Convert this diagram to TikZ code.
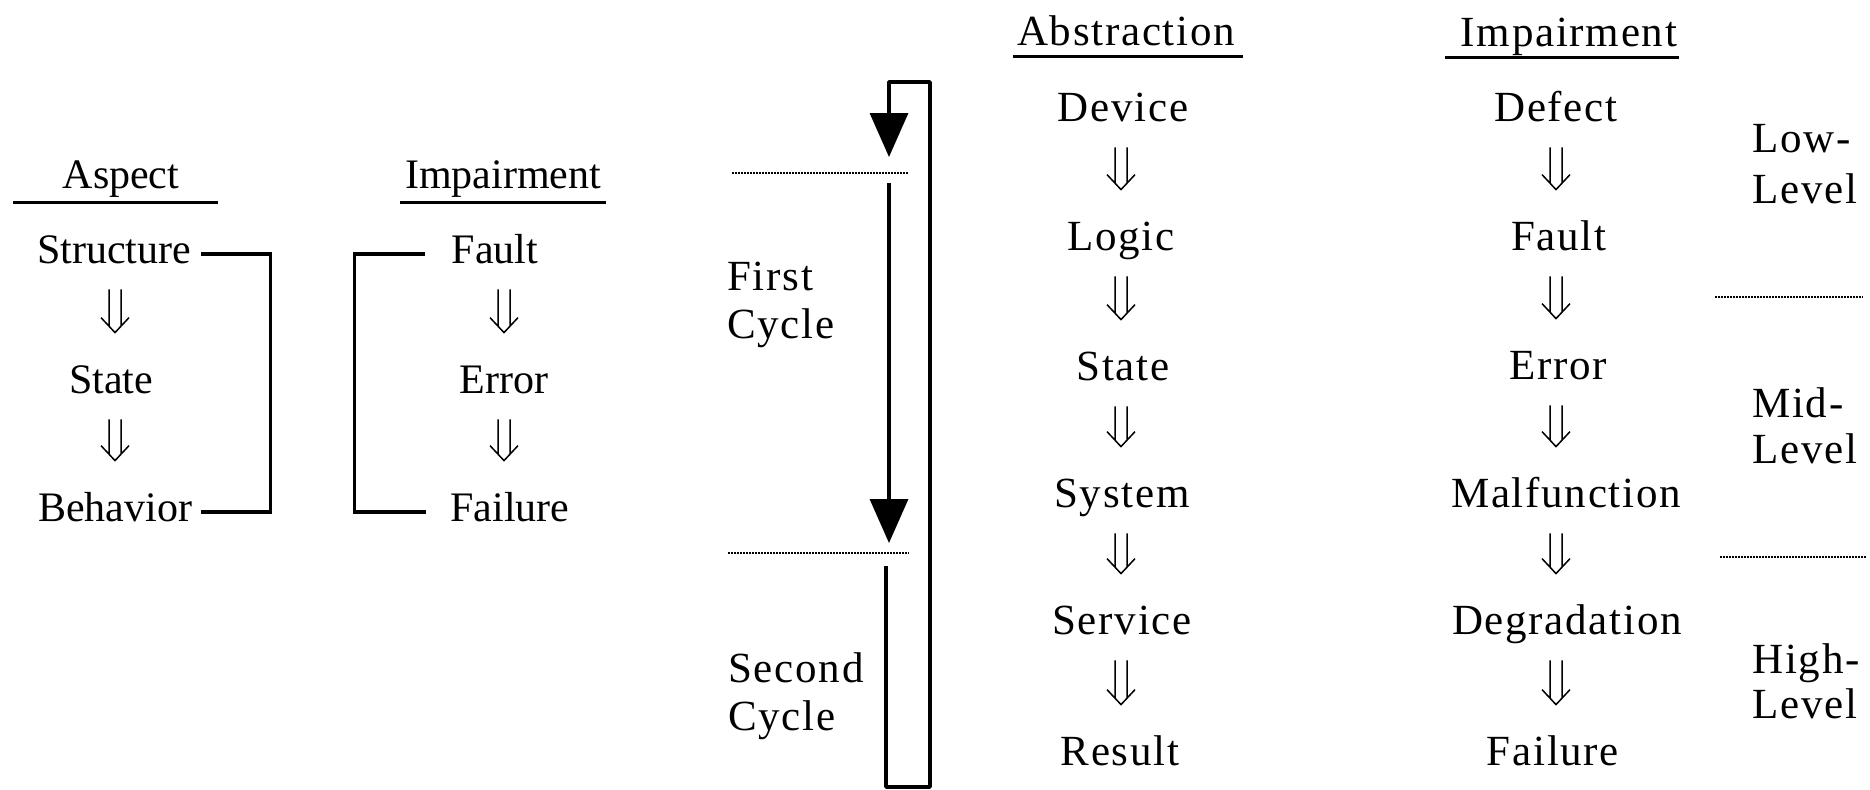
\documentclass[tikz,border=0pt]{standalone}
\usepackage{fontspec}
\setmainfont{Liberation Serif}
\newfontfamily\spacedserif[LetterSpace=4]{Liberation Serif}
\usetikzlibrary{calc,arrows.meta}
\begin{document}
\begin{tikzpicture}[x=0.5pt,y=-0.5pt,
  lt/.style={inner sep=0pt, anchor=base, text height=14pt, text depth=0pt,
    font=\fontsize{21pt}{24pt}\selectfont},
  rt/.style={inner sep=0pt, anchor=base, text height=14pt, text depth=0pt,
    font=\spacedserif\fontsize{21.5pt}{24pt}\selectfont},
  lab/.style={inner sep=0pt, anchor=base west,
    font=\spacedserif\fontsize{21.5pt}{24pt}\selectfont},
  ul/.style={line width=1.5pt},
  brk/.style={line width=1.6pt},
  dots/.style={line width=1pt, dash pattern=on 0.75pt off 0.75pt},
  cyc/.style={line width=1.75pt, line join=round},
  tipT/.style={-{Triangle[length=22pt,width=19pt]}},
  dbl/.style={line width=0.75pt, to path={
    ($(\tikztostart)+(-6,26)$) -- ($(\tikztostart |- \tikztotarget)+(-6,-39)$)
    ($(\tikztostart)+(6,26)$) -- ($(\tikztostart |- \tikztotarget)+(6,-39)$)
    ($(\tikztostart |- \tikztotarget)+(-14,-47)$) -- ($(\tikztostart |- \tikztotarget)+(0,-32)$) -- ($(\tikztostart |- \tikztotarget)+(14,-47)$)
  }}
]
\fill[white] (0,0) rectangle (1870,789);
\useasboundingbox (0,0) rectangle (1870,789);

% ---------- left part ----------
\node[lt] (hAsp) at (121,188) {Aspect};
\node[lt] (hImpL) at (503,188) {Impairment};
\draw[ul] (13,202) -- (218,202);
\draw[ul] (400,202) -- (606,202);

\node[lt] (str) at (114,263) {Structure};
\node[lt] (sta) at (111,393) {State};
\node[lt] (beh) at (115,521) {Behavior};
\node[lt] (flt) at (495,263) {Fault};
\node[lt] (err) at (504,393) {Error};
\node[lt] (fal) at (510,521) {Failure};

\draw[dbl] ([xshift=0.5pt]str.south) to (sta.north);
\draw[dbl] ([xshift=2pt]sta.south) to (beh.north);
\draw[dbl] ([xshift=4.5pt]flt.south) to (err.north);
\draw[dbl] (err.south) to (fal.north);

\draw[brk] ($(str.east)+(10,5)$) -| ($(beh.east)+(78,5)$) -- ($(beh.east)+(9,5)$);
\draw[brk] ($(flt.west)+(-26,5)$) -| ($(fal.west)+(-96,5)$) -- ($(fal.west)+(-24,5)$);

% ---------- cycle loop ----------
\coordinate (tl) at (889,82);
\coordinate (tr) at (930,82);
\coordinate (bR) at (930,787);
\coordinate (bL) at (886,787);
\coordinate (a1) at (889,157);
\coordinate (s2) at (889,183);
\coordinate (a2) at (889,543);
\coordinate (s3) at (886,566);
\draw[cyc,tipT] (s3) -- (bL) -- (bR) -- (tr) -- (tl) -- (a1);
\draw[cyc,tipT] (s2) -- (a2);

\draw[dots] (732,173) -- (909,173);
\draw[dots] (728,553) -- (909,553);

\node[lab] (fc1) at (727,290) {First};
\node[lab] (fc2) at (727,338) {Cycle};
\node[lab] (sc1) at (728,682) {Second};
\node[lab] (sc2) at (728,730) {Cycle};

% ---------- abstraction column ----------
\node[rt] (hAbs) at (1126,45) {Abstraction};
\draw[ul] (1013,56) -- (1243,56);
\node[rt] (dev) at (1123,121) {Device};
\node[rt] (log) at (1121,250) {Logic};
\node[rt] (stt) at (1123,380) {State};
\node[rt] (sys) at (1122,507) {System};
\node[rt] (ser) at (1122,634) {Service};
\node[rt] (res) at (1120,765) {Result};
\draw[dbl] ([xshift=-1pt]dev.south) to (log.north);
\draw[dbl] (log.south) to (stt.north);
\draw[dbl] ([xshift=-1pt]stt.south) to (sys.north);
\draw[dbl] ([xshift=-0.5pt]sys.south) to (ser.north);
\draw[dbl] ([xshift=-0.5pt]ser.south) to (res.north);

% ---------- impairment column ----------
\node[rt] (hImpR) at (1569,46) {Impairment};
\draw[ul] (1445,57) -- (1679,57);
\node[rt] (dfc) at (1556,121) {Defect};
\node[rt] (flt2) at (1559,250) {Fault};
\node[rt] (err2) at (1558,379) {Error};
\node[rt] (mal) at (1566,507) {Malfunction};
\node[rt] (deg) at (1567,634) {Degradation};
\node[rt] (fal2) at (1553,765) {Failure};
\draw[dbl] (dfc.south) to (flt2.north);
\draw[dbl] ([xshift=-1.5pt]flt2.south) to (err2.north);
\draw[dbl] ([xshift=-1pt]err2.south) to (mal.north);
\draw[dbl] ([xshift=-5pt]mal.south) to (deg.north);
\draw[dbl] ([xshift=-5.5pt]deg.south) to (fal2.north);

% ---------- level labels ----------
\draw[dots] (1715,297) -- (1863,297);
\draw[dots] (1720,557) -- (1866,557);
\node[lab] (lo1) at (1752,152) {Low-};
\node[lab] (lo2) at (1752,203) {Level};
\node[lab] (mi1) at (1752,417) {Mid-};
\node[lab] (mi2) at (1752,463) {Level};
\node[lab] (hi1) at (1752,673) {High-};
\node[lab] (hi2) at (1752,718) {Level};
\end{tikzpicture}
\end{document}
